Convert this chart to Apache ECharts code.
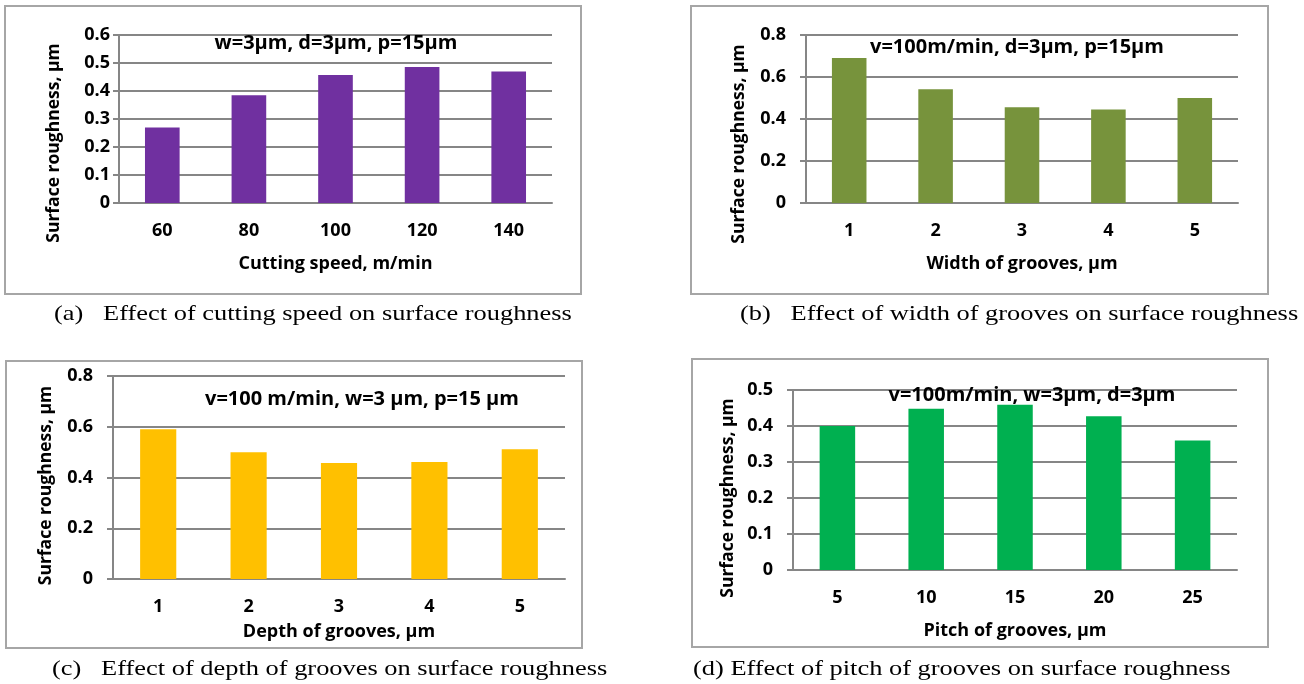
<!DOCTYPE html>
<html>
<head>
<meta charset="utf-8">
<title>Surface roughness</title>
<script src="https://cdn.jsdelivr.net/npm/echarts@6/dist/echarts.min.js"></script>
<style>
  html, body { margin: 0; padding: 0; background: #ffffff; }
  #chart { width: 1304px; height: 684px; }
</style>
</head>
<body>
<div id="chart"></div>
<script>
// data
var speedCats = ['60', '80', '100', '120', '140'];
var speedVals = [0.27, 0.385, 0.457, 0.486, 0.47];
var widthCats = ['1', '2', '3', '4', '5'];
var widthVals = [0.69, 0.542, 0.456, 0.445, 0.5];
var depthCats = ['1', '2', '3', '4', '5'];
var depthVals = [0.59, 0.5, 0.457, 0.461, 0.511];
var pitchCats = ['5', '10', '15', '20', '25'];
var pitchVals = [0.4, 0.448, 0.459, 0.427, 0.36];

var yName = 'Surface roughness, \u00b5m';
var gridCol = '#868686';
var font = 'Open Sans';

var myChart = echarts.init(document.getElementById('chart'));

function xAx(idx, cats, name, gap) {
    return {
        type: 'category', gridIndex: idx, data: cats,
        name: name, nameLocation: 'middle', nameGap: gap,
        nameTextStyle: { fontFamily: font, fontWeight: 'bold', fontSize: 18, color: '#000' },
        axisLine: { show: true, lineStyle: { color: gridCol, width: 2 } },
        axisTick: { show: false },
        axisLabel: { margin: 19, fontFamily: font, fontWeight: 'bold', fontSize: 18, color: '#000' }
    };
}

// shift: pushes the rotated title down, like Excel places it
function yAx(idx, max, step, gap, lblGap, shift) {
    return {
        type: 'value', gridIndex: idx, min: 0, max: max, interval: step,
        name: yName, nameLocation: 'middle', nameGap: gap,
        nameTextStyle: {
            fontFamily: font, fontWeight: 'bold', fontSize: 17.5, color: '#000',
            padding: [0, shift * 2, 0, 0]
        },
        axisLine: { show: true, lineStyle: { color: gridCol, width: 2 } },
        axisTick: { show: true, length: 6, lineStyle: { color: gridCol, width: 2 } },
        splitLine: { show: true, lineStyle: { color: gridCol, width: 2 } },
        axisLabel: {
            margin: lblGap, fontFamily: font, fontWeight: 'bold', fontSize: 18, color: '#000',
            formatter: function (v) { return v === 0 ? '0' : v.toFixed(1); }
        }
    };
}

function bars(idx, vals, color) {
    return {
        type: 'bar', xAxisIndex: idx, yAxisIndex: idx, data: vals,
        barWidth: '40%', itemStyle: { color: color }, silent: true
    };
}

function frame(x, y, w, h) {
    return {
        type: 'rect', z: -1, silent: true,
        shape: { x: x, y: y, width: w, height: h },
        style: { fill: null, stroke: '#a6a6a6', lineWidth: 2 }
    };
}

function note(x, y, txt) {
    return {
        type: 'text', x: x, y: y, z: 10, silent: true,
        style: {
            text: txt, fill: '#000', align: 'center', verticalAlign: 'middle',
            fontFamily: font, fontWeight: 'bold', fontSize: 20
        }
    };
}

function caption(x, y, txt) {
    return {
        type: 'text', x: x, y: y, scaleX: 1.2, silent: true,
        style: {
            text: txt, fill: '#000', align: 'left', verticalAlign: 'middle',
            fontFamily: 'Liberation Serif', fontSize: 22
        }
    };
}

myChart.setOption({
    animation: false,
    grid: [
        { left: 119, top: 35, width: 433, height: 168 },
        { left: 806, top: 35, width: 432, height: 168 },
        { left: 113, top: 376, width: 452, height: 203 },
        { left: 793, top: 390, width: 444, height: 180 }
    ],
    xAxis: [
        xAx(0, speedCats, 'Cutting speed, m/min', 52),
        xAx(1, widthCats, 'Width of grooves, \u00b5m', 52),
        xAx(2, depthCats, 'Depth of grooves, \u00b5m', 44),
        xAx(3, pitchCats, 'Pitch of grooves, \u00b5m', 52)
    ],
    yAxis: [
        yAx(0, 0.6, 0.1, 56, 9, 24),
        yAx(1, 0.8, 0.2, 58, 20, 25),
        yAx(2, 0.8, 0.2, 58, 20, 8),
        yAx(3, 0.5, 0.1, 56, 20, 18)
    ],
    series: [
        bars(0, speedVals, '#7030A0'),
        bars(1, widthVals, '#77933C'),
        bars(2, depthVals, '#FFC000'),
        bars(3, pitchVals, '#00B050')
    ],
    graphic: [
        frame(5, 6, 576, 288),
        frame(691, 6, 577, 288),
        frame(6, 361, 576, 287),
        frame(692, 359, 576, 288),
        note(336, 43, 'w=3\u00b5m, d=3\u00b5m, p=15\u00b5m'),
        note(1017, 47, 'v=100m/min, d=3\u00b5m, p=15\u00b5m'),
        note(362, 399, 'v=100 m/min, w=3 \u00b5m, p=15 \u00b5m'),
        note(1032, 395, 'v=100m/min, w=3\u00b5m, d=3\u00b5m'),
        caption(54, 314, '(a)   Effect of cutting speed on surface roughness'),
        caption(740, 314, '(b)   Effect of width of grooves on surface roughness'),
        caption(52, 669, '(c)   Effect of depth of grooves on surface roughness'),
        caption(693, 669, '(d) Effect of pitch of grooves on surface roughness')
    ]
});
</script>
</body>
</html>
